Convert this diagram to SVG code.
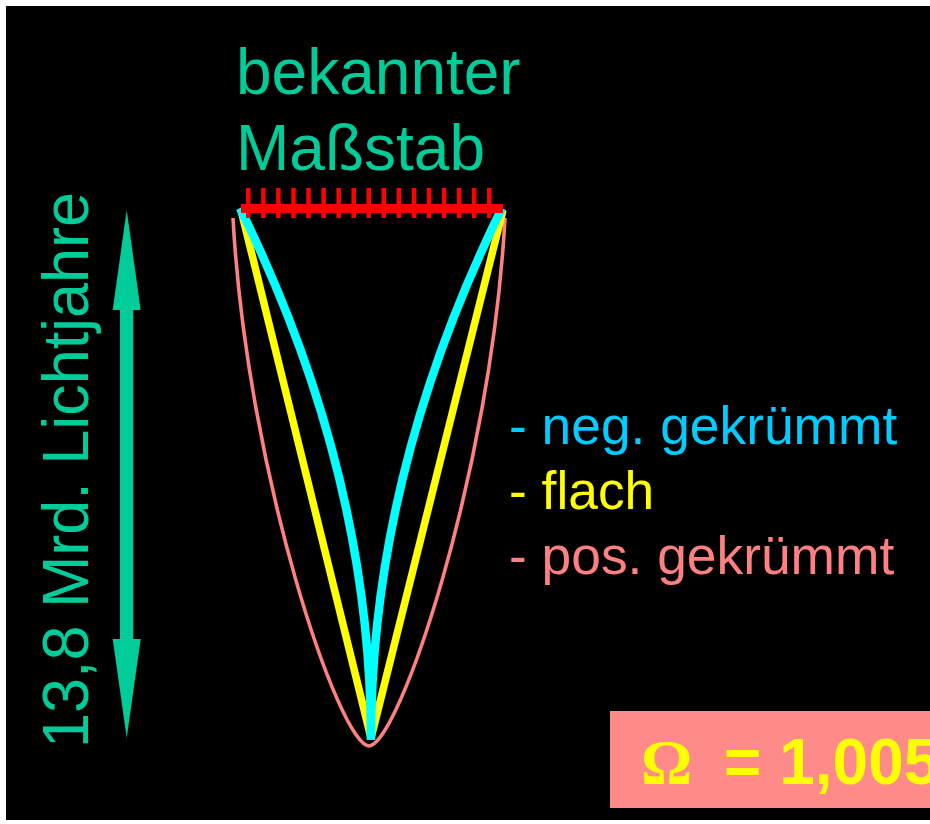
<svg xmlns="http://www.w3.org/2000/svg" width="930" height="824" viewBox="0 0 930 824">
<style>
.green{fill:#00cc99;font-family:"Liberation Sans",Arial,sans-serif;font-size:64px}
.leg{font-family:"Liberation Sans",Arial,sans-serif;font-size:53.33px}
.tick{stroke:#ff0000;stroke-width:4.5}
</style>
<rect x="0" y="0" width="930" height="824" fill="#ffffff"/>
<rect x="6" y="6" width="924" height="814" fill="#000000"/>
<g id="title">
<text class="green" x="236" y="94">bekannter</text>
<text class="green" x="236" y="170">Maßstab</text>
</g>
<g id="axis-label">
<text class="green" transform="translate(88,748) rotate(-90)" textLength="556" lengthAdjust="spacingAndGlyphs">13,8 Mrd. Lichtjahre</text>
</g>
<g id="arrow">
<polygon fill="#00cc99" points="126.7,210 140.7,310 133.3,310 133.3,639 140.7,639 126.7,738 112.7,639 120,639 120,310 112.7,310"/>
</g>
<g id="connectors">
<path id="pos" d="M233,218 C247,475 340,746 369,746 C398,746 491,475 505,218" fill="none" stroke="#ff8080" stroke-width="3.6"/>
<path id="flat" d="M241,210 L371,738 L503,210" fill="none" stroke="#ffff00" stroke-width="7.5" stroke-linejoin="miter"/>
<path id="neg" d="M240,208 Q371,474 371,740 Q371,474 502,208" fill="none" stroke="#00ffff" stroke-width="8.5"/>
</g>
<g id="ruler">
<rect x="241" y="204" width="262" height="9" fill="#ff0000"/>
<g class="tick">
<line x1="248.3" y1="188" x2="248.3" y2="218"/>
<line x1="263.4" y1="188" x2="263.4" y2="218"/>
<line x1="278.4" y1="188" x2="278.4" y2="218"/>
<line x1="293.5" y1="188" x2="293.5" y2="218"/>
<line x1="308.5" y1="188" x2="308.5" y2="218"/>
<line x1="323.6" y1="188" x2="323.6" y2="218"/>
<line x1="338.7" y1="188" x2="338.7" y2="218"/>
<line x1="353.7" y1="188" x2="353.7" y2="218"/>
<line x1="368.8" y1="188" x2="368.8" y2="218"/>
<line x1="383.8" y1="188" x2="383.8" y2="218"/>
<line x1="398.9" y1="188" x2="398.9" y2="218"/>
<line x1="414.0" y1="188" x2="414.0" y2="218"/>
<line x1="429.0" y1="188" x2="429.0" y2="218"/>
<line x1="444.1" y1="188" x2="444.1" y2="218"/>
<line x1="459.1" y1="188" x2="459.1" y2="218"/>
<line x1="474.2" y1="188" x2="474.2" y2="218"/>
<line x1="489.3" y1="188" x2="489.3" y2="218"/>
</g>
</g>
<g id="legend">
<text class="leg" x="509" y="444" fill="#00ccff">- neg. gekrümmt</text>
<text class="leg" x="509" y="509" fill="#ffff00">- flach</text>
<text class="leg" x="509" y="574" fill="#ff8080">- pos. gekrümmt</text>
</g>
<g id="omega-box">
<rect x="610" y="711" width="320" height="97" fill="#ff8a8a"/>
<text x="641" y="784" fill="#ffff00" font-family="'Liberation Serif','Times New Roman',serif" font-weight="bold" font-size="64">Ω</text>
<text x="724" y="784" fill="#ffff00" font-family="'Liberation Sans',Arial,sans-serif" font-weight="bold" font-size="64">= 1,005</text>
</g>
</svg>
